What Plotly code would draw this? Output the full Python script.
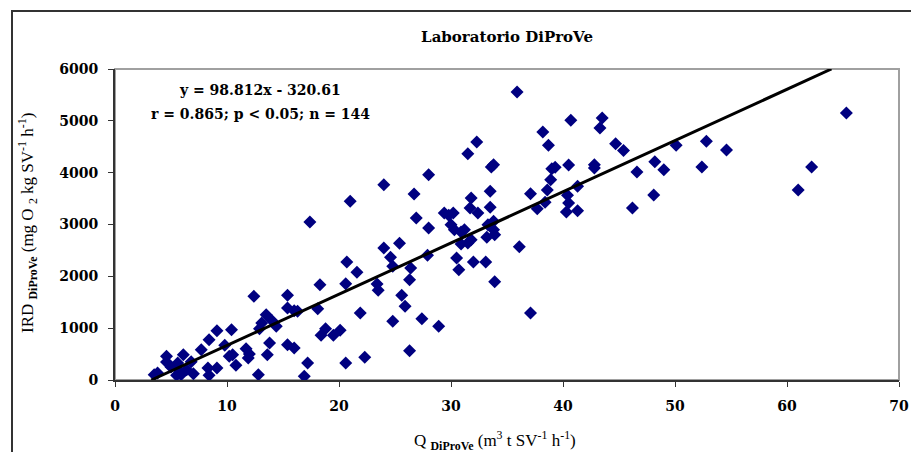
import plotly.graph_objects as go

# Data (Q DiProVe, IRD DiProVe)
q_values = [
    35.9, 65.3, 40.7, 43.5, 43.3, 38.2, 38.7, 44.7, 45.4, 50.1, 52.8, 54.6,
    33.6, 33.8, 39.0, 39.3, 40.5, 42.8, 42.8, 48.2, 46.6, 49.0, 52.4, 62.2,
    61.0, 38.9, 33.5, 38.6, 37.1, 40.4, 41.3, 48.1, 33.5, 37.7, 38.4, 40.5,
    40.3, 41.3, 46.2, 33.8, 33.8, 33.9, 36.1, 33.9, 37.1,
    17.4, 21.0, 24.0, 28.0, 26.7, 31.8, 31.7, 32.4, 29.4, 30.2, 26.9, 28.0,
    30.0, 30.3, 30.9, 33.2, 31.8, 31.5, 30.9, 24.0, 25.4, 27.9, 24.6, 24.8,
    26.4, 30.5, 30.7, 32.0, 33.1, 20.7, 21.6, 20.6, 18.3, 23.4, 23.5, 26.3,
    25.6, 25.9, 15.4, 15.4, 16.0, 16.3, 18.1, 21.9, 24.8, 27.4, 28.9, 18.4,
    18.8, 19.5, 20.1, 15.4, 16.0, 17.2, 16.9, 20.6, 22.3, 26.3,
    3.5, 3.8, 4.6, 4.6, 6.1, 5.6, 5.8, 5.5, 5.9, 6.4, 7.7, 8.4, 8.3, 8.4,
    9.1, 9.1, 9.8, 10.2, 10.5, 10.4, 10.8, 11.7, 11.9, 12.4, 12.8, 13.5,
    13.1, 12.9, 13.8, 13.6, 14.4,
    32.3, 31.5,
    33.3, 5.0, 6.8, 14.0, 31.2, 12.0, 7.0, 29.8,
]
ird_values = [
    5556, 5150, 5010, 5054, 4861, 4784, 4527, 4558, 4430, 4527, 4604, 4437,
    4109, 4153, 4076, 4103, 4147, 4153, 4090, 4212, 4012, 4057, 4109, 4109,
    3665, 3864, 3640, 3665, 3594, 3563, 3736, 3569, 3331, 3305, 3428, 3414,
    3241, 3266, 3318, 3061, 2900, 2803, 2572, 1896, 1292,
    3048, 3447, 3768, 3961, 3588, 3511, 3318, 3222, 3222, 3222, 3125, 2932,
    2996, 2900, 2855, 2752, 2706, 2643, 2623, 2546, 2636, 2405, 2367, 2193,
    2160, 2353, 2128, 2276, 2276, 2276, 2077, 1858, 1838, 1852, 1730, 1935,
    1634, 1422, 1634, 1389, 1337, 1324, 1376, 1292, 1132, 1183, 1036, 862,
    990, 862, 959, 681, 617, 328, 71, 328, 438, 565,
    103, 135, 457, 347, 488, 328, 168, 91, 103, 199, 584, 777, 231, 91,
    951, 231, 669, 457, 488, 970, 283, 604, 424, 1615, 103, 1260,
    1100, 990, 714, 488, 1036,
    4591, 4366,
    2996, 250, 350, 1150, 2900, 500, 120, 3180,
]

# Regression reported in the chart
slope = 98.812
intercept = -320.61
fit_x = [-intercept / slope, (6000 - intercept) / slope]
fit_y = [slope * x + intercept for x in fit_x]

x_ticks = [0, 10, 20, 30, 40, 50, 60, 70]
y_ticks = [0, 1000, 2000, 3000, 4000, 5000, 6000]

serif = "Liberation Serif"
bold_serif = "DejaVu Serif"

fig = go.Figure()
fig.add_trace(go.Scatter(
    x=q_values, y=ird_values, mode="markers",
    marker=dict(symbol="diamond", size=10, color="#000080",
                line=dict(width=0)),
    showlegend=False, hoverinfo="x+y"))
fig.add_trace(go.Scatter(
    x=fit_x, y=fit_y, mode="lines",
    line=dict(color="black", width=3), showlegend=False, hoverinfo="skip"))

tickfont = dict(family=bold_serif, size=14, color="black", weight="bold")

fig.update_layout(
    width=919, height=452,
    margin=dict(l=107, r=28, t=61, b=80, autoexpand=False),
    paper_bgcolor="white", plot_bgcolor="white",
    title=dict(text="Laboratorio DiProVe", x=0.5, xref="paper",
               y=1 - 29 / 452, yref="container", yanchor="middle", xanchor="center",
               font=dict(family=bold_serif, size=15, color="black", weight="bold")),
    xaxis=dict(range=[0, 70], tickvals=x_ticks, ticks="outside", ticklen=5,
               tickwidth=1, tickcolor="#333", showline=True, linecolor="#333",
               linewidth=2, showgrid=False, zeroline=False, tickfont=tickfont,
               ticklabelstandoff=7),
    yaxis=dict(range=[0, 6000], tickvals=y_ticks, ticks="outside", ticklen=5,
               tickwidth=1, tickcolor="#333", showline=True, linecolor="#333",
               linewidth=2, showgrid=False, zeroline=False, tickfont=tickfont,
               ticklabelstandoff=7),
    shapes=[
        dict(type="rect", xref="paper", yref="paper", x0=0, x1=1, y0=0, y1=1,
             line=dict(color="#a0a0a0", width=2), layer="below"),
        # outer frame (left and top)
        dict(type="line", xref="paper", yref="paper",
             x0=(4 - 107) / 784, x1=(4 - 107) / 784,
             y0=(372 - 452) / 311, y1=(372 - 3) / 311,
             line=dict(color="#333", width=2)),
        dict(type="line", xref="paper", yref="paper",
             x0=(3 - 107) / 784, x1=(919 - 107) / 784,
             y0=(372 - 3) / 311, y1=(372 - 3) / 311,
             line=dict(color="#333", width=2)),
    ],
    annotations=[
        dict(text="y = 98.812x - 320.61", xref="paper", yref="paper",
             x=(252 - 107) / 784, y=(372 - 82) / 311, showarrow=False,
             xanchor="center", yanchor="middle",
             font=dict(family=bold_serif, size=14, color="black", weight="bold")),
        dict(text="r = 0.865; p < 0.05; n = 144", xref="paper", yref="paper",
             x=(252 - 107) / 784, y=(372 - 106) / 311, showarrow=False,
             xanchor="center", yanchor="middle",
             font=dict(family=bold_serif, size=14, color="black", weight="bold")),
        dict(text="Q <sub><b>DiProVe</b></sub> (m<sup>3</sup> t SV<sup>-1</sup> h<sup>-1</sup>)",
             xref="paper", yref="paper",
             x=(487 - 107) / 784, y=(372 - 432) / 311, showarrow=False,
             xanchor="center", yanchor="middle",
             font=dict(family=serif, size=17, color="black")),
        dict(text="IRD <sub><b>DiProVe</b></sub> (mg O <sub>2</sub> kg SV<sup>-1</sup> h<sup>-1</sup>)",
             xref="paper", yref="paper", textangle=-90,
             x=(19 - 107) / 784, y=(372 - 215) / 311, showarrow=False,
             xanchor="center", yanchor="middle",
             font=dict(family=serif, size=17, color="black")),
    ],
)

fig.write_html("out.html")
